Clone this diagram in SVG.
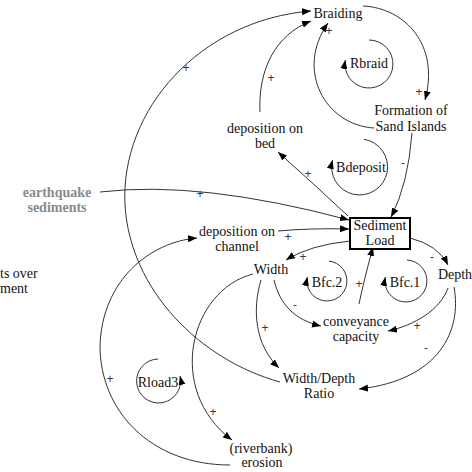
<svg xmlns="http://www.w3.org/2000/svg" width="472" height="472" viewBox="0 0 472 472">
  <style>
    .lbl { font-family: "Liberation Serif", "Times New Roman", serif; font-size: 14px; fill: #111; text-anchor: middle; }
    .loop { font-family: "Liberation Serif", "Times New Roman", serif; font-size: 14px; fill: #111; text-anchor: middle; }
    .ext { font-family: "Liberation Serif", "Times New Roman", serif; font-size: 14px; font-weight: bold; fill: #8a8a8a; text-anchor: middle; }
    .sg { font-family: "Liberation Sans", Arial, sans-serif; font-size: 12px; fill: #3a3550; text-anchor: middle; }
    .ln { fill: none; stroke: #333; stroke-width: 1; marker-end: url(#ah); }
    .lp { fill: none; stroke: #333; stroke-width: 1; marker-end: url(#ah); }
  </style>
  <defs>
    <marker id="ah" markerUnits="userSpaceOnUse" markerWidth="10" markerHeight="8" refX="9" refY="3.5" orient="auto">
      <path d="M0,0 L9,3.5 L0,7 z" fill="#000"/>
    </marker>
  </defs>
  <rect width="472" height="472" fill="#fff"/>

  <!-- causal links -->
  <g id="connectors">
    <path class="ln" d="M280,382 C200,360 130,290 125,205 C120,110 200,20 311,11"/>
    <path class="ln" d="M363,6 C405,8 440,45 425,100"/>
    <path class="ln" d="M374,128 C325,125 295,70 328,23"/>
    <path class="ln" d="M260,112 C258,70 275,35 311,21"/>
    <path class="ln" d="M412,133 Q408,185 391,217"/>
    <path class="ln" d="M348,216 Q315,185 278,152"/>
    <path class="ln" d="M100,192 Q200,180 349,220"/>
    <path class="ln" d="M278,231 Q310,228 349,229"/>
    <path class="ln" d="M350,241 Q310,245 286,260"/>
    <path class="ln" d="M410,238 Q438,245 448,265"/>
    <path class="ln" d="M359,304 Q364,280 373,247"/>
    <path class="ln" d="M274,280 C280,305 295,320 321,326"/>
    <path class="ln" d="M448,288 C440,310 415,325 388,331"/>
    <path class="ln" d="M261,280 C252,310 255,345 279,368"/>
    <path class="ln" d="M454,287 C462,330 440,380 359,389"/>
    <path class="ln" d="M253,274 C190,290 165,390 232,440"/>
    <path class="ln" d="M230,465 C150,465 100,410 100,346 C102,280 150,242 197,238"/>

    <!-- polarity signs -->
    <text class="sg" x="186" y="72">+</text>
    <text class="sg" x="419" y="96">+</text>
    <text class="sg" x="329" y="35">+</text>
    <text class="sg" x="271" y="82">+</text>
    <text class="sg" x="403" y="167">-</text>
    <text class="sg" x="308" y="178">+</text>
    <text class="sg" x="200" y="198">+</text>
    <text class="sg" x="288" y="241">+</text>
    <text class="sg" x="303" y="261">+</text>
    <text class="sg" x="432" y="261">-</text>
    <text class="sg" x="359" y="288">+</text>
    <text class="sg" x="295" y="309">-</text>
    <text class="sg" x="417" y="330">+</text>
    <text class="sg" x="265" y="332">+</text>
    <text class="sg" x="426" y="352">-</text>
    <text class="sg" x="213" y="416">+</text>
    <text class="sg" x="110" y="383">+</text>
  </g>

  <!-- variables -->
  <g id="braiding"><text class="lbl" x="338" y="18">Braiding</text></g>
  <g id="sand-islands">
    <text class="lbl" x="411" y="115">Formation of</text>
    <text class="lbl" x="411" y="131">Sand Islands</text>
  </g>
  <g id="deposition-bed">
    <text class="lbl" x="265" y="133">deposition on</text>
    <text class="lbl" x="265" y="148">bed</text>
  </g>
  <g id="sediment-load">
    <rect x="350" y="218" width="60" height="31" fill="#fff" stroke="#000" stroke-width="2"/>
    <text class="lbl" x="380" y="230">Sediment</text>
    <text class="lbl" x="380" y="245">Load</text>
  </g>
  <g id="earthquake">
    <text class="ext" x="57" y="197">earthquake</text>
    <text class="ext" x="57" y="212">sediments</text>
  </g>
  <g id="deposition-channel">
    <text class="lbl" x="237" y="236">deposition on</text>
    <text class="lbl" x="237" y="251">channel</text>
  </g>
  <g id="width"><text class="lbl" x="271" y="274">Width</text></g>
  <g id="depth"><text class="lbl" x="455" y="279">Depth</text></g>
  <g id="conveyance">
    <text class="lbl" x="356" y="326">conveyance</text>
    <text class="lbl" x="356" y="341">capacity</text>
  </g>
  <g id="wd-ratio">
    <text class="lbl" x="319" y="383">Width/Depth</text>
    <text class="lbl" x="319" y="398">Ratio</text>
  </g>
  <g id="erosion">
    <text class="lbl" x="261" y="453">(riverbank)</text>
    <text class="lbl" x="262" y="467">erosion</text>
  </g>
  <g id="side-note">
    <text class="lbl" x="0" y="278" style="text-anchor:start">ts over</text>
    <text class="lbl" x="0" y="293" style="text-anchor:start">ment</text>
  </g>

  <!-- loop markers -->
  <g id="loop-rbraid">
    <path class="lp" d="M369,40 A24,24 0 1 1 345.3,60"/>
    <text class="loop" x="369" y="68">Rbraid</text>
  </g>
  <g id="loop-bdeposit">
    <path class="lp" d="M364,139.3 A28,28 0 1 1 332.5,160"/>
    <text class="loop" x="361" y="172">Bdeposit</text>
  </g>
  <g id="loop-bfc2">
    <path class="lp" d="M329,261.1 A20,20 0 1 1 307.3,277"/>
    <text class="loop" x="327" y="287">Bfc.2</text>
  </g>
  <g id="loop-bfc1">
    <path class="lp" d="M407,260 A21,21 0 1 1 385.3,277"/>
    <text class="loop" x="405" y="287">Bfc.1</text>
  </g>
  <g id="loop-rload3">
    <path class="lp" d="M158,359 A22,22 0 1 0 180,376"/>
    <text class="loop" x="158" y="387">Rload3</text>
  </g>
</svg>
